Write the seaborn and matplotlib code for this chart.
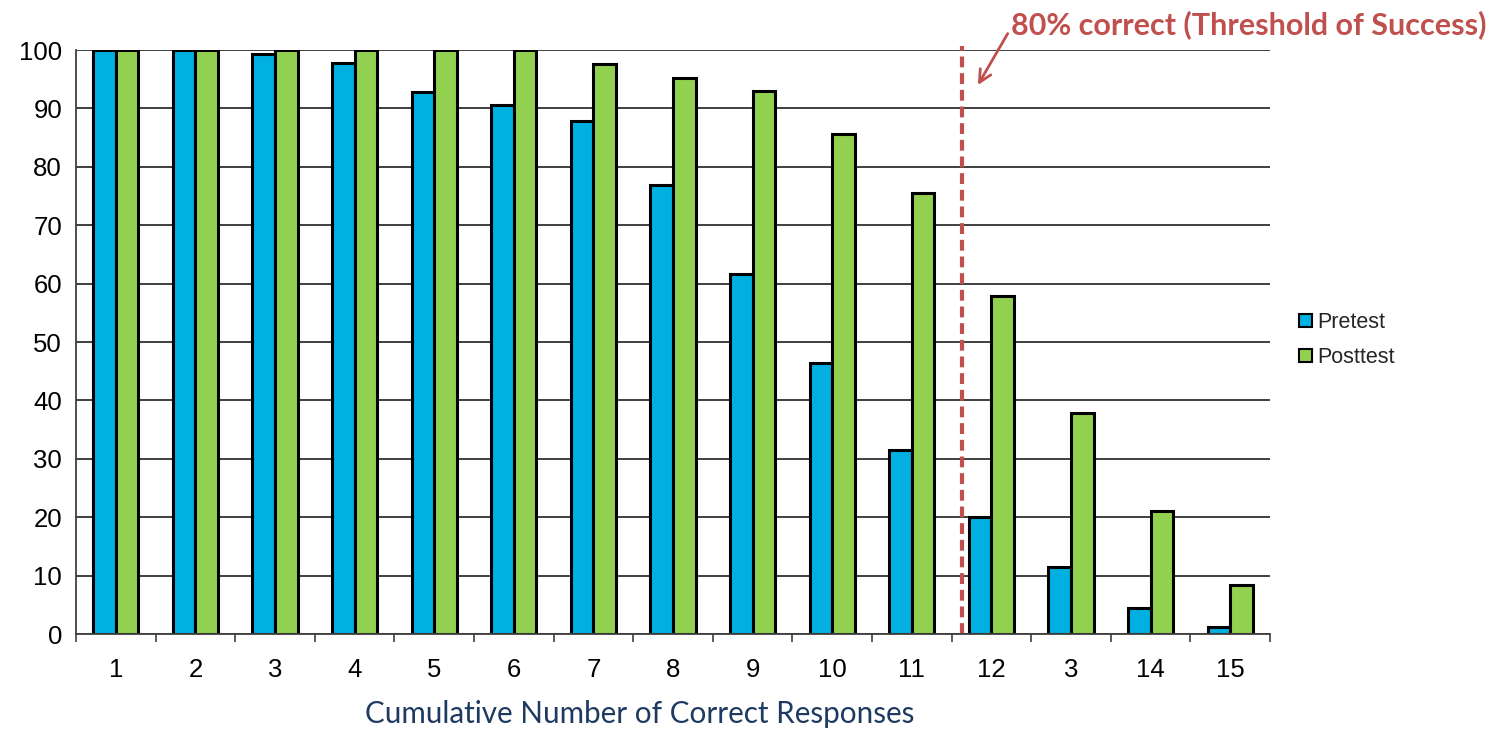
import matplotlib
matplotlib.use("Agg")
import matplotlib.pyplot as plt
import pandas as pd
import seaborn as sns
from matplotlib.patches import Patch
from matplotlib.ticker import FixedLocator

# category labels as printed on the chart (note the "3" in 13th place)
responses = ["1", "2", "3", "4", "5", "6", "7", "8", "9", "10", "11", "12", "3", "14", "15"]
pretest = [100, 100, 99.3, 97.7, 92.8, 90.6, 87.8, 76.8, 61.6, 46.4, 31.5, 20.1, 11.5, 4.5, 1.2]
posttest = [100, 100, 100, 100, 100, 100, 97.6, 95.2, 92.9, 85.7, 75.5, 57.9, 37.9, 21.1, 8.4]
series = ["Pretest", "Posttest"]
threshold_x = 10.63  # dashed line position (between 11 and 12)

BLUE = "#00B0E0"
GREEN = "#92D050"
RED = "#C0504D"
NAVY = "#1F3A60"

pos = list(range(len(responses)))
df = pd.DataFrame({
    "pos": pos * 2,
    "value": pretest + posttest,
    "test": [series[0]] * len(pos) + [series[1]] * len(pos),
})

sns.set_theme(style="white")
plt.rcParams["font.family"] = ["Liberation Sans", "DejaVu Sans"]

fig = plt.figure(figsize=(14.97, 7.31), dpi=100)
ax = fig.add_axes([76 / 1497, 1 - 634 / 731, (1270 - 76) / 1497, (634 - 50) / 731])

sns.barplot(data=df, x="pos", y="value", hue="test", palette=[BLUE, GREEN],
            width=0.57, gap=0, edgecolor="black", linewidth=2.2, legend=False,
            saturation=1, ax=ax)

ax.set_ylim(0, 100)
ax.set_xlim(-0.5, len(responses) - 0.5)
ax.set_yticks(range(0, 101, 10))
ax.set_xticks(pos)
ax.set_xticklabels(responses)
ax.xaxis.set_minor_locator(FixedLocator([p - 0.5 for p in pos] + [len(pos) - 0.5]))
ax.tick_params(axis="x", which="major", length=0, pad=17, labelsize=18.5, labelcolor="black")
ax.tick_params(axis="x", which="minor", length=6, width=1.2, color="#404040", direction="out")
ax.tick_params(axis="y", length=6, width=1.2, color="#404040", direction="out", pad=4,
               labelsize=18.5, labelcolor="black")
ax.tick_params(axis="x", which="both", bottom=True)

ax.grid(axis="y", color="#303030", lw=1.3)
ax.set_axisbelow(True)
for side in ["top", "right"]:
    ax.spines[side].set_visible(False)
for side in ["left", "bottom"]:
    ax.spines[side].set_color("#404040")
    ax.spines[side].set_linewidth(1.3)

ax.set_ylabel("")
ax.set_xlabel("Cumulative Number of Correct Responses", fontsize=21.3, color=NAVY,
              family=["Lato", "DejaVu Sans"])
ax.xaxis.set_label_coords((640 - 76) / 1194, -(714 - 634) / 584)
ax.xaxis.label.set_va("center")

# threshold line
ax.vlines(threshold_x, 0, 100.6, colors=RED, lw=3, linestyles=(0, (2.6, 1.4)), clip_on=False)
ax.annotate("80% correct (Threshold of Success)", xy=(10.83, 94.0), xycoords="data",
            xytext=(1011, 731 - 25), textcoords="figure pixels",
            ha="left", va="center", fontsize=22, fontweight="bold", color=RED,
            family=["Lato", "DejaVu Sans"],
            arrowprops=dict(arrowstyle="->", color=RED, lw=2, shrinkA=0, shrinkB=0,
                            relpos=(0, 0.4), mutation_scale=22))

handles = [Patch(facecolor=BLUE, edgecolor="black", lw=1.5),
           Patch(facecolor=GREEN, edgecolor="black", lw=1.5)]
fig.legend(handles, series, loc="center left", bbox_to_anchor=(1288 / 1497, 1 - 340 / 731),
           frameon=False, fontsize=15.5, handlelength=0.6, handleheight=0.6,
           handletextpad=0.25, labelspacing=0.65, borderpad=0)

fig.savefig("out.png", dpi=100)
